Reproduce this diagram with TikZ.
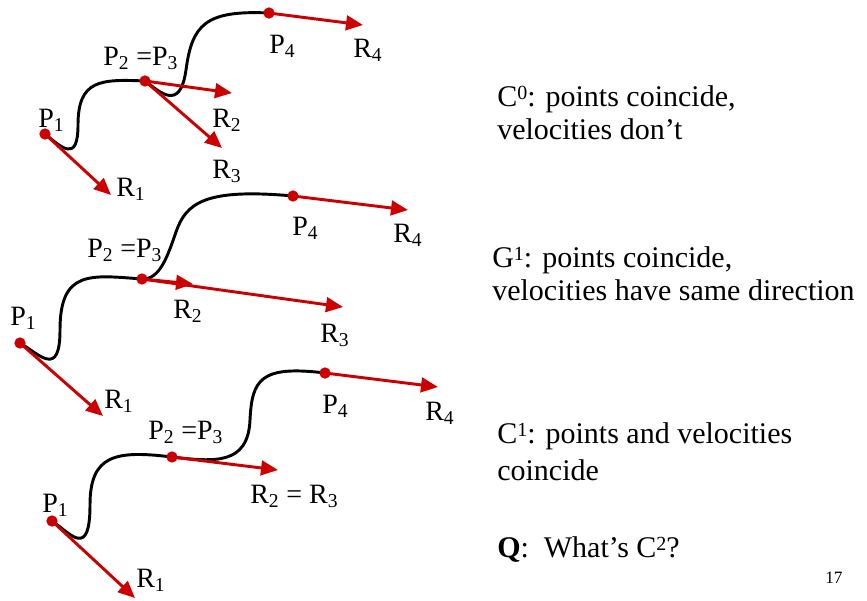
\documentclass[tikz,border=0pt]{standalone}
\usepackage{fontspec}
\setmainfont{Liberation Serif}
\usetikzlibrary{arrows.meta}
\definecolor{ptred}{RGB}{204,0,0}
\newcommand{\upidx}[1]{\raisebox{0.22em}{\fontsize{15}{15}\selectfont #1}}
\tikzset{
  pt/.style={circle,fill=ptred,inner sep=0pt,minimum size=8.5pt},
  vec/.style={draw=ptred,line width=2.2pt,-{Triangle[length=12.75pt,width=11pt]}},
  crv/.style={line width=2.2pt,line cap=round},
  lbl/.style={anchor=base west,inner sep=0pt,font=\fontsize{21}{25}\selectfont},
  txt/.style={anchor=base west,inner sep=0pt,font=\fontsize{22.5}{27}\selectfont},
}
\begin{document}
\begin{tikzpicture}[x=0.75pt,y=0.75pt,yscale=-1,xscale=1]
\path[use as bounding box] (0,0) rectangle (867,600);

%Points [panel C0]
\coordinate (aP1) at (45,134);
\coordinate (aP2) at (145,81);
\coordinate (aP4) at (269,13);
\coordinate (aR1) at (111,195);
\coordinate (aR2) at (232,93);
\coordinate (aR3) at (222,148);
\coordinate (aR4) at (363,25);
%Points [panel G1]
\coordinate (bP1) at (20,343);
\coordinate (bP2) at (142,279);
\coordinate (bP4) at (293,196);
\coordinate (bR1) at (103,416);
\coordinate (bR2) at (193,284);
\coordinate (bR3) at (343,307);
\coordinate (bR4) at (408,210);
%Points [panel C1]
\coordinate (cP1) at (52,521);
\coordinate (cP2) at (172,457);
\coordinate (cP4) at (325,373);
\coordinate (cR1) at (135,598);
\coordinate (cR2) at (278,470);
\coordinate (cR4) at (438,387);

%Curve Lines
\draw[crv] (aP1) .. controls (62,148) and (78,163) .. (78,125) .. controls (78,80) and (100,79) .. (aP2);
\draw[crv] (aP2) .. controls (160,92) and (180,112) .. (186,70) .. controls (192,25) and (205,10) .. (aP4);
\draw[crv] (bP1) .. controls (40,355) and (60,378) .. (60,330) .. controls (60,270) and (90,275) .. (bP2);
\draw[crv] (bP2) .. controls (160,280) and (168,255) .. (176,232) .. controls (186,203) and (205,188) .. (bP4);
\draw[crv] (cP1) .. controls (70,533) and (90,560) .. (90,505) .. controls (90,455) and (115,450) .. (cP2);
\draw[crv] (cP2) .. controls (215,462) and (248,465) .. (250,420) .. controls (252,380) and (260,365) .. (cP4);

%Straight Lines
\draw[vec] (aP1) -- (aR1);
\draw[vec] (aP2) -- (aR2);
\draw[vec] (aP2) -- (aR3);
\draw[vec] (aP4) -- (aR4);
\draw[vec] (bP1) -- (bR1);
\draw[vec] (bP2) -- (bR2);
\draw[vec] (bP2) -- (bR3);
\draw[vec] (bP4) -- (bR4);
\draw[vec] (cP1) -- (cR1);
\draw[vec] (cP2) -- (cR2);
\draw[vec] (cP4) -- (cR4);

%Dots
\foreach \p in {aP1,aP2,aP4,bP1,bP2,bP4,cP1,cP2,cP4}
  \node[pt] (dot\p) at (\p) {};

% Text Node
\node[lbl] (aL1) at (38,127) {P\textsubscript{1}};
\node[lbl] (aL2) at (103,65) {P\textsubscript{2} =P\textsubscript{3}};
\node[lbl] (aL4) at (269,53) {P\textsubscript{4}};
\node[lbl] (aLR1) at (116,196) {R\textsubscript{1}};
\node[lbl] (aLR2) at (212,127) {R\textsubscript{2}};
\node[lbl] (aLR3) at (212,178) {R\textsubscript{3}};
\node[lbl] (aLR4) at (353,57) {R\textsubscript{4}};
% Text Node
\node[lbl] (bL1) at (10,325) {P\textsubscript{1}};
\node[lbl] (bL2) at (87,257) {P\textsubscript{2} =P\textsubscript{3}};
\node[lbl] (bL4) at (292,235) {P\textsubscript{4}};
\node[lbl] (bLR1) at (104,408) {R\textsubscript{1}};
\node[lbl] (bLR2) at (173,318) {R\textsubscript{2}};
\node[lbl] (bLR3) at (320,342) {R\textsubscript{3}};
\node[lbl] (bLR4) at (393,242) {R\textsubscript{4}};
% Text Node
\node[lbl] (cL1) at (42,512) {P\textsubscript{1}};
\node[lbl] (cL2) at (148,439) {P\textsubscript{2} =P\textsubscript{3}};
\node[lbl] (cL4) at (322,413) {P\textsubscript{4}};
\node[lbl] (cLR1) at (136,587) {R\textsubscript{1}};
\node[lbl] (cLR2) at (250,503) {R\textsubscript{2} = R\textsubscript{3}};
\node[lbl] (cLR4) at (425,420) {R\textsubscript{4}};

% Text Node
\node[txt] (c0a) at (497,106) {C\upidx{0}: points coincide,};
\node[txt] (c0b) at (497,139) {velocities don’t};
\node[txt] (g1a) at (492,267) {G\upidx{1}: points coincide,};
\node[txt] (g1b) at (492,300) {velocities have same direction};
\node[txt] (c1a) at (497,443) {C\upidx{1}: points and velocities};
\node[txt] (c1b) at (497,480) {coincide};
\node[txt] (qq) at (497,557) {\textbf{Q}:\ \ What’s C\upidx{2}?};
\node[anchor=base west,inner sep=0pt,font=\fontsize{13}{15}\selectfont] (pg) at (825,583) {17};
\end{tikzpicture}
\end{document}
